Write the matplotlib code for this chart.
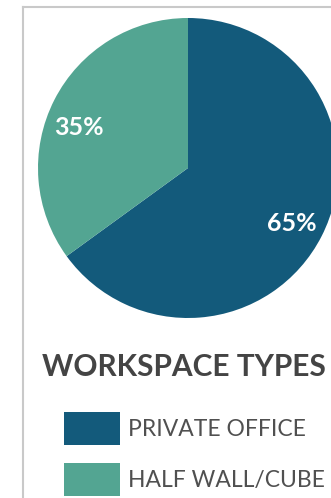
import matplotlib
matplotlib.use("Agg")
import matplotlib.pyplot as plt
from matplotlib.lines import Line2D
from matplotlib.patches import Rectangle

categories = ["PRIVATE OFFICE", "HALF WALL/CUBE"]
shares = [65, 35]
colors = ["#135a7b", "#53a592"]
title = "WORKSPACE TYPES"

W, H = 331, 498
fig = plt.figure(figsize=(W / 100, H / 100), dpi=100)
fig.patch.set_facecolor("white")

def fx(px):
    return px / W

def fy(py):
    return 1 - py / H

# panel frame (left and top edges)
fig.add_artist(Line2D([fx(23), fx(23)], [fy(7), 0], transform=fig.transFigure,
                      color="#c9c9c9", lw=1.5))
fig.add_artist(Line2D([fx(23), 1], [fy(7), fy(7)], transform=fig.transFigure,
                      color="#c9c9c9", lw=1.5))

# pie
ax = fig.add_axes([fx(38), fy(318), 300 / W, 300 / H])
wedges, texts, autotexts = ax.pie(
    shares, colors=colors, startangle=90, counterclock=False,
    autopct=lambda p: f"{p:.0f}%", pctdistance=0.78,
    wedgeprops=dict(linewidth=0),
    textprops=dict(color="white", fontsize=18, fontweight="bold", family="Lato"),
)
# nudge the percentage labels inside their wedges
label_pos = [(0.69, -0.37), (-0.73, 0.27)]
for t, pos in zip(autotexts, label_pos):
    t.set_position(pos)
    t.set_clip_on(False)
for w in wedges:
    w.set_clip_on(False)
ax.set_xlim(-1, 1)
ax.set_ylim(-1, 1)
ax.set_aspect("equal")
ax.axis("off")

# legend block
fig.text(fx(42), fy(367), title, ha="left", va="center", fontsize=21.5,
         fontweight="bold", color="#444444", family="Lato")
rows_y = [429, 480]
for cat, col, yc in zip(categories, colors, rows_y):
    fig.add_artist(Rectangle((fx(64), fy(yc + 16)), 56 / W, 33 / H,
                             transform=fig.transFigure, facecolor=col,
                             edgecolor="none"))
    fig.text(fx(128), fy(yc), cat, ha="left", va="center", fontsize=16.5,
             fontweight="normal", color="#505050", family="Lato")

fig.savefig("out.png", dpi=100)
